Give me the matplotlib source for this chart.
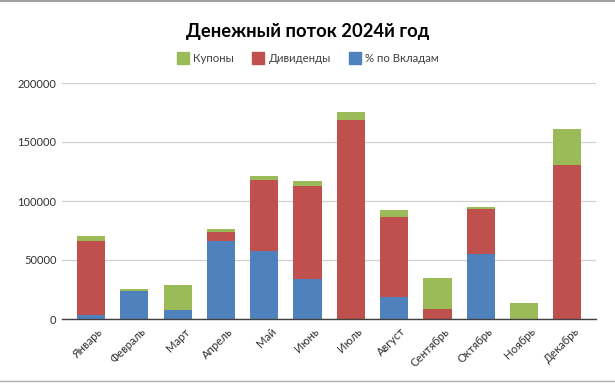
import matplotlib
matplotlib.use("Agg")
import matplotlib.pyplot as plt
import matplotlib.transforms as mtransforms
import numpy as np
from matplotlib.lines import Line2D

plt.rcParams['font.family'] = ['Lato', 'DejaVu Sans']

months = ["Январь", "Февраль", "Март", "Апрель", "Май", "Июнь", "Июль",
          "Август", "Сентябрь", "Октябрь", "Ноябрь", "Декабрь"]
deposits = [3500, 23800, 7600, 66200, 57700, 34000, 0, 18700, 0, 55500, 0, 0]
dividends = [62600, 0, 0, 7900, 60500, 78900, 168900, 68100, 8500, 37900, 0, 130700]
coupons = [4300, 1700, 21000, 2300, 3200, 4200, 6500, 5400, 26300, 1700, 13600, 30600]
yticks = [0, 50000, 100000, 150000, 200000]

c_green = "#9BBB59"
c_red = "#C0504D"
c_blue = "#4F81BD"

fig = plt.figure(figsize=(6.15, 3.84), dpi=100)
ax = fig.add_axes([62/615, 1-319/384, 534/615, 236/384])

x = np.arange(len(months))
w = 0.65
dep = np.array(deposits)
div = np.array(dividends)
cou = np.array(coupons)
ax.bar(x, dep, w, color=c_blue, zorder=3, label="% по Вкладам")
ax.bar(x, div, w, bottom=dep, color=c_red, zorder=3, label="Дивиденды")
ax.bar(x, cou, w, bottom=dep+div, color=c_green, zorder=3, label="Купоны")

ax.set_ylim(0, 200000)
ax.set_xlim(-0.67, len(months)-0.34)
ax.set_yticks(yticks)
ax.set_yticklabels([str(v) for v in yticks], fontsize=8, color="#303030")
ax.set_xticks(x)
ax.set_xticklabels(months, rotation=45, ha="right", va="top", rotation_mode="anchor",
                   fontsize=8.2, color="#303030")
ax.tick_params(axis="both", length=0, pad=4)
ax.tick_params(axis="x", pad=5)
offset = mtransforms.ScaledTranslation(6/100, 0, fig.dpi_scale_trans)
for lbl in ax.get_xticklabels():
    lbl.set_transform(lbl.get_transform() + offset)
ax.grid(axis="y", color="#D0D0D0", linewidth=0.9, zorder=0)
for s in ["top", "right", "left"]:
    ax.spines[s].set_visible(False)
ax.spines["bottom"].set_color("#404040")
ax.spines["bottom"].set_linewidth(1.0)
ax.spines["bottom"].set_zorder(4)

fig.text(0.5, 1-31/384, "Денежный поток 2024й год", ha="center", va="center",
         fontsize=13.2, fontweight="bold", color="#000000")

handles = [
    Line2D([], [], marker="s", linestyle="none", markersize=8, color=c_green, label="Купоны"),
    Line2D([], [], marker="s", linestyle="none", markersize=8, color=c_red, label="Дивиденды"),
    Line2D([], [], marker="s", linestyle="none", markersize=8, color=c_blue, label="% по Вкладам"),
]
fig.legend(handles=handles, loc="center", bbox_to_anchor=(0.5, 1-58/384), ncol=3,
           frameon=False, fontsize=8.2, handletextpad=0.3, columnspacing=1.5,
           handlelength=1.2, labelcolor="#404040")

# surrounding sheet lines
fig.add_artist(Line2D([0, 1], [1-1/384, 1-1/384], color="#A0A0A0", linewidth=1.5))
fig.add_artist(Line2D([0, 1], [1-381/384, 1-381/384], color="#B0B0B0", linewidth=1))

fig.savefig("out.png", dpi=100)
